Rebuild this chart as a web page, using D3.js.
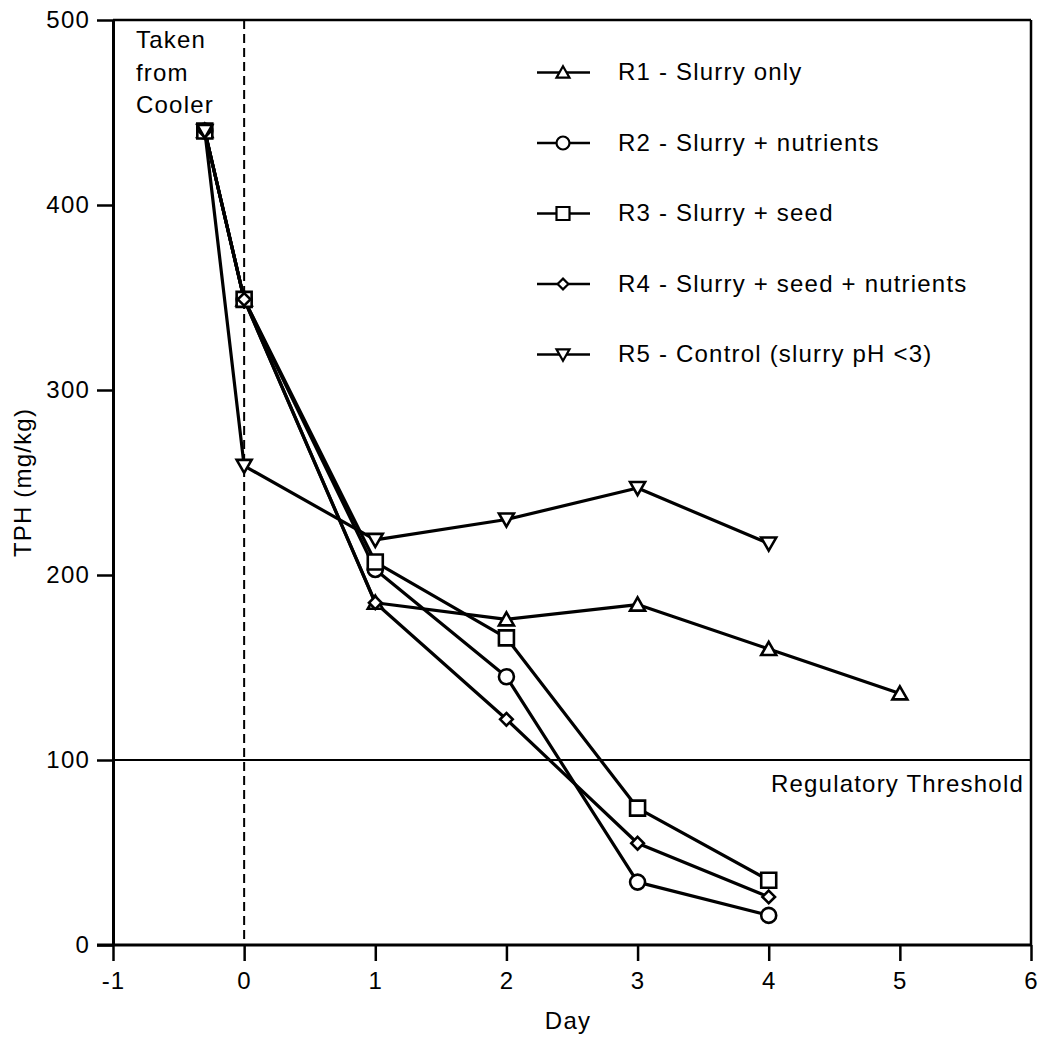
<!DOCTYPE html>
<html>
<head>
<meta charset="utf-8">
<script src="https://cdn.jsdelivr.net/npm/d3@7"></script>
<style>
  html, body { margin: 0; padding: 0; background: #fff; }
  svg text { font-family: "Liberation Sans", Arial, Helvetica, sans-serif; fill: #000; letter-spacing: 1.2px; }
</style>
</head>
<body>
<svg id="chart" width="1044" height="1042"></svg>
<script>
// Sampling days (the first sample was taken from the cooler before day 0)
const days = [-0.3, 0, 1, 2, 3, 4, 5];

// TPH concentrations (mg/kg) for each reactor
const r1Values = [440, 349, 185, 176, 184, 160, 136];
const r2Values = [440, 349, 203, 145, 34, 16];
const r3Values = [440, 349, 207, 166, 74, 35];
const r4Values = [440, 349, 185, 122, 55, 26];
const r5Values = [440, 259, 219, 230, 247, 217];

const seriesLabels = [
  "R1 - Slurry only",
  "R2 - Slurry + nutrients",
  "R3 - Slurry + seed",
  "R4 - Slurry + seed + nutrients",
  "R5 - Control (slurry pH <3)"
];
const seriesMarkers = ["triangleUp", "circle", "square", "diamond", "triangleDown"];

const xTicks = [-1, 0, 1, 2, 3, 4, 5, 6];
const yTicks = [0, 100, 200, 300, 400, 500];
const thresholdValue = 100;
const thresholdLabel = "Regulatory Threshold";
const coolerLabel = ["Taken", "from", "Cooler"];
const xTitle = "Day";
const yTitle = "TPH (mg/kg)";

const allValues = [r1Values, r2Values, r3Values, r4Values, r5Values];

const svg = d3.select("#chart");
const plotLeft = 113, plotRight = 1031, plotTop = 20, plotBottom = 945;

const x = d3.scaleLinear().domain([-1, 6]).range([plotLeft, plotRight]);
const y = d3.scaleLinear().domain([0, 500]).range([plotBottom, plotTop]);

// Marker path builders, centred on (0,0)
function markerPath(type, s) {
  const h = s / 2;
  switch (type) {
    case "triangleUp":
      return `M0,${-h * 0.95}L${h},${h * 0.8}L${-h},${h * 0.8}Z`;
    case "triangleDown":
      return `M0,${h * 0.95}L${h},${-h * 0.8}L${-h},${-h * 0.8}Z`;
    case "square":
      return `M${-h},${-h}L${h},${-h}L${h},${h}L${-h},${h}Z`;
    case "diamond": {
      const d = h * 0.9;
      return `M0,${-d}L${d},0L0,${d}L${-d},0Z`;
    }
    case "circle":
    default: {
      const r = h;
      return `M${r},0A${r},${r} 0 1,1 ${-r},0A${r},${r} 0 1,1 ${r},0Z`;
    }
  }
}

// Frame: top and right edges
svg.append("line").attr("x1", plotLeft).attr("x2", plotRight).attr("y1", plotTop).attr("y2", plotTop)
  .attr("stroke", "#000").attr("stroke-width", 2.5);
svg.append("line").attr("x1", plotRight).attr("x2", plotRight).attr("y1", plotTop).attr("y2", plotBottom)
  .attr("stroke", "#000").attr("stroke-width", 2.5);

// Axes (plain integer labels with a hyphen minus)
const fmt = d => String(d);
const yAxis = d3.axisLeft(y).tickValues(yTicks).tickFormat(fmt).tickSize(16).tickSizeOuter(0).tickPadding(7);
const xAxis = d3.axisBottom(x).tickValues(xTicks).tickFormat(fmt).tickSize(16).tickSizeOuter(0).tickPadding(11);

const gy = svg.append("g").attr("transform", `translate(${plotLeft},0)`).call(yAxis);
const gx = svg.append("g").attr("transform", `translate(0,${plotBottom})`).call(xAxis);
[gx, gy].forEach(g => {
  g.select(".domain").attr("stroke", "#000").attr("stroke-width", 3);
  g.selectAll(".tick line").attr("stroke", "#000").attr("stroke-width", 2.5);
  g.selectAll(".tick text").attr("font-size", 24).attr("fill", "#000");
});
// Extend the bottom domain line past the corners
gx.select(".domain").attr("d", `M${plotLeft - 16},0H${plotRight}`);

// Axis titles
svg.append("text").attr("x", 568).attr("y", 1029).attr("text-anchor", "middle")
  .attr("font-size", 24).text(xTitle);
svg.append("text").attr("transform", `translate(31,${(plotTop + plotBottom) / 2}) rotate(-90)`)
  .attr("text-anchor", "middle").attr("font-size", 24).text(yTitle);

// Day 0 reference (dashed)
svg.append("line").attr("x1", x(0)).attr("x2", x(0)).attr("y1", plotTop).attr("y2", plotBottom)
  .attr("stroke", "#000").attr("stroke-width", 2).attr("stroke-dasharray", "9,5");

// Cooler annotation
const cooler = svg.append("text").attr("font-size", 24);
coolerLabel.forEach((t, i) => {
  cooler.append("tspan").attr("x", 136).attr("y", 48 + i * 32.5).text(t);
});

// Regulatory threshold
svg.append("line").attr("x1", plotLeft).attr("x2", plotRight)
  .attr("y1", y(thresholdValue)).attr("y2", y(thresholdValue))
  .attr("stroke", "#000").attr("stroke-width", 2);
svg.append("text").attr("x", 1024).attr("y", y(thresholdValue) + 32)
  .attr("text-anchor", "end").attr("font-size", 24).text(thresholdLabel);

// Series lines
const line = d3.line().x(d => x(d[0])).y(d => y(d[1]));
const seriesData = allValues.map(vals => vals.map((v, i) => [days[i], v]));

svg.append("g").selectAll("path").data(seriesData).join("path")
  .attr("d", line).attr("fill", "none").attr("stroke", "#000")
  .attr("stroke-width", 3.2).attr("stroke-linejoin", "round");

// Series markers
seriesData.forEach((pts, si) => {
  svg.append("g").selectAll("path").data(pts).join("path")
    .attr("transform", d => `translate(${x(d[0])},${y(d[1])})`)
    .attr("d", markerPath(seriesMarkers[si], si === 3 ? 14 : 15))
    .attr("fill", "#fff").attr("stroke", "#000").attr("stroke-width", 2.6);
});

// Legend
const legendY = i => 72.5 + i * 70.5;
const legend = svg.append("g").selectAll("g").data(seriesLabels).join("g")
  .attr("transform", (d, i) => `translate(0,${legendY(i)})`);
legend.append("line").attr("x1", 537).attr("x2", 590).attr("y1", 0).attr("y2", 0)
  .attr("stroke", "#000").attr("stroke-width", 2.5);
legend.append("path").attr("transform", "translate(563,0)")
  .attr("d", (d, i) => markerPath(seriesMarkers[i], i === 3 ? 12 : 13))
  .attr("fill", "#fff").attr("stroke", "#000").attr("stroke-width", 2.2);
legend.append("text").attr("x", 618).attr("y", 7.5).attr("font-size", 24).text(d => d);
</script>
</body>
</html>
